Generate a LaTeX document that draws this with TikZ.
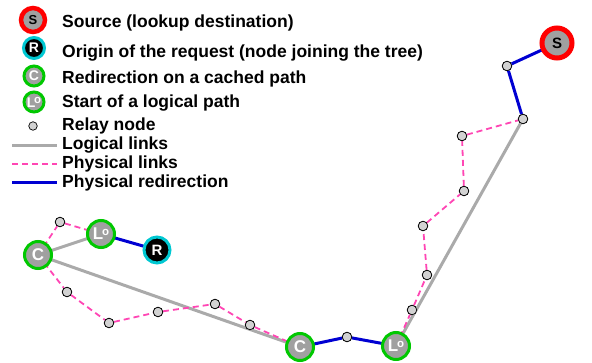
\documentclass[tikz,border=0pt]{standalone}
\usepackage{fontspec}
\setmainfont{Liberation Sans}
\definecolor{ringgreen}{RGB}{0,200,0}
\definecolor{fillgray}{RGB}{160,160,160}
\definecolor{relaygray}{RGB}{210,210,210}
\definecolor{linkgray}{RGB}{170,170,170}
\definecolor{linkpink}{RGB}{255,70,180}
\definecolor{redirblue}{RGB}{0,0,210}
\definecolor{ringcyan}{RGB}{0,200,210}
\definecolor{ringred}{RGB}{255,0,0}
\newcommand{\LoMark}{L\kern-1.2pt\raisebox{0.28em}{\fontsize{11.5}{11.5}\selectfont o}}
\tikzset{
  x=1pt, y=-1pt,
  srcnode/.style={circle, inner sep=0pt, draw=ringred, fill=fillgray, text=black, font=\bfseries\fontsize{15}{15}\selectfont},
  orignode/.style={circle, inner sep=0pt, draw=ringcyan, fill=black, text=white, font=\bfseries\fontsize{15}{15}\selectfont},
  cachenode/.style={circle, inner sep=0pt, draw=ringgreen, fill=fillgray, text=white, font=\bfseries\fontsize{17}{17}\selectfont},
  relaynode/.style={circle, inner sep=0pt, minimum size=9.5pt, draw=black, line width=0.7pt, fill=relaygray},
  logical/.style={draw=linkgray, line width=3pt},
  physical/.style={draw=linkpink, line width=1.8pt, dash pattern=on 6pt off 4pt},
  redirect/.style={draw=redirblue, line width=3pt},
  legendtext/.style={anchor=base west, inner sep=0pt, font=\bfseries\fontsize{17.5}{17.5}\selectfont}
}
\begin{document}
\begin{tikzpicture}
\useasboundingbox (0,0) rectangle (592,363);
% legend
\node[srcnode, minimum size=24pt, line width=4.5pt, font=\bfseries\fontsize{13}{13}\selectfont] (ls) at (33,20) {S};
\node[orignode, minimum size=21pt, line width=3pt, font=\bfseries\fontsize{14}{14}\selectfont] (lr) at (34,48) {R};
\node[cachenode, minimum size=20pt, line width=3pt, font=\bfseries\fontsize{14}{14}\selectfont] (lc) at (34,76) {C};
\node[cachenode, minimum size=20pt, line width=3pt, font=\bfseries\fontsize{14}{14}\selectfont] (llo) at (34,102) {\LoMark};
\node[relaynode, minimum size=8.5pt] (lrel) at (33,126) {};
\coordinate (la1) at (12,146); \coordinate (la2) at (57,146);
\coordinate (lb1) at (12,164); \coordinate (lb2) at (57,164);
\coordinate (lcc1) at (12,183); \coordinate (lcc2) at (57,183);
\draw[logical] (la1) -- (la2);
\draw[physical] (lb1) -- (lb2);
\draw[redirect] (lcc1) -- (lcc2);
\node[legendtext] (t1) at (62,27.5) {Source (lookup destination)};
\node[legendtext] (t2) at (62,57.5) {Origin of the request (node joining the tree)};
\node[legendtext] (t3) at (62,83.5) {Redirection on a cached path};
\node[legendtext] (t4) at (62,107.5) {Start of a logical path};
\node[legendtext] (t5) at (62,130.5) {Relay node};
\node[legendtext] (t6) at (62,149.5) {Logical links};
\node[legendtext] (t7) at (62,169) {Physical links};
\node[legendtext] (t8) at (62,188) {Physical redirection};
% diagram node positions
\coordinate (c1p) at (38,255);
\coordinate (lo1p) at (101,234);
\coordinate (rp) at (157,250);
\coordinate (c2p) at (300,347);
\coordinate (lo2p) at (396,346);
\coordinate (sp) at (557,43);
% relays
\node[relaynode] (r1) at (60,222) {};
\node[relaynode] (r2) at (67,292) {};
\node[relaynode] (r3) at (109,323) {};
\node[relaynode] (r4) at (158,312) {};
\node[relaynode] (r5) at (215,304) {};
\node[relaynode] (r6) at (250,325) {};
\node[relaynode] (r7) at (347,337) {};
\node[relaynode] (r8) at (412,310) {};
\node[relaynode] (r9) at (427,275) {};
\node[relaynode] (r10) at (423,226) {};
\node[relaynode] (r11) at (464,191) {};
\node[relaynode] (r12) at (462,136) {};
\node[relaynode] (r13) at (523,119) {};
\node[relaynode] (r14) at (507,66) {};
% links
\draw[logical] (c1p) -- (lo1p);
\draw[logical] (c1p) -- (c2p);
\draw[logical] (lo2p) -- (r13);
\draw[physical] (c1p) -- (r1) -- (lo1p);
\draw[physical] (c1p) -- (r2) -- (r3) -- (r4) -- (r5) -- (r6) -- (c2p);
\draw[physical] (lo2p) -- (r8) -- (r9) -- (r10) -- (r11) -- (r12) -- (r13);
\draw[redirect] (lo1p) -- (rp);
\draw[redirect] (c2p) -- (r7) -- (lo2p);
\draw[redirect] (r13) -- (r14) -- (sp);
% relays on top of links
\foreach \r in {r1,r2,r3,r4,r5,r6,r7,r8,r9,r10,r11,r12,r13,r14}{
  \node[relaynode] at (\r) {};
}
% big nodes
\node[cachenode, minimum size=27pt, line width=3pt] (c1) at (c1p) {C};
\node[cachenode, minimum size=27pt, line width=3pt] (lo1) at (lo1p) {\LoMark};
\node[orignode, minimum size=26pt, line width=3pt] (r) at (rp) {R};
\node[cachenode, minimum size=27pt, line width=3pt] (c2) at (c2p) {C};
\node[cachenode, minimum size=27pt, line width=3pt] (lo2) at (lo2p) {\LoMark};
\node[srcnode, minimum size=30pt, line width=5pt] (s) at (sp) {S};
\end{tikzpicture}
\end{document}
